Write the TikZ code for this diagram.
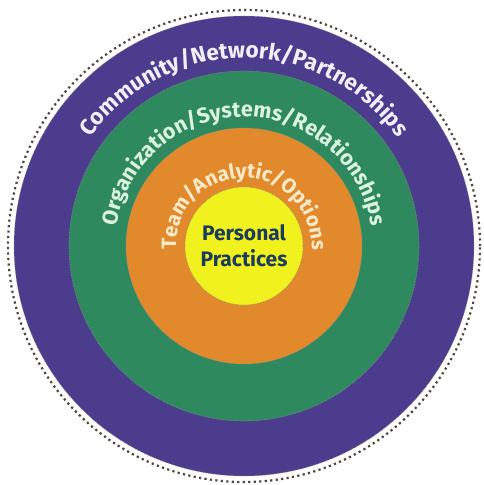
\documentclass[tikz,border=0pt]{standalone}
\usepackage{fontspec}
\setmainfont{Fira Sans}
\usetikzlibrary{decorations.text}
\definecolor{community}{HTML}{4B3C8E}
\definecolor{organization}{HTML}{2E8A5E}
\definecolor{team}{HTML}{E28A2B}
\definecolor{personal}{HTML}{F1F11E}
\definecolor{communitytext}{HTML}{F2F0FA}
\definecolor{organizationtext}{HTML}{DDF3E2}
\definecolor{teamtext}{HTML}{FCEBCB}
\definecolor{personaltext}{HTML}{1C3C5C}
\definecolor{rimdot}{HTML}{4E4640}
\newcommand{\bandfont}[1]{\bfseries\fontsize{#1}{#1}\selectfont}
\tikzset{
  ring/.style={circle, inner sep=0pt, draw=black!45, densely dotted, line width=0.6pt},
  rim/.style={draw=rimdot, line width=2.2pt, dash pattern=on 2.2pt off 3.3pt},
  core/.style={align=center, text=personaltext, font=\bandfont{21}, inner sep=0pt}
}
\begin{document}
\begin{tikzpicture}[x=1pt,y=1pt]
  \useasboundingbox (-244,-239) rectangle (240,246);

  % dotted rim round the outside
  \draw[rim] (0,0) circle[radius=236];

  \node[ring, fill=community, minimum size=460pt] (community) at (0,0) {};
  \node[ring, fill=organization, minimum size=350pt] (organization) at (0,0) {};
  \node[ring, fill=team, minimum size=236pt] (team) at (0,0) {};
  \node[ring, fill=personal, minimum size=118pt] (personal) at (0,0) {};
  \node[core] (practices) at (personal.center) {Personal\\[5pt]Practices};

  % band labels
  \path[decorate, decoration={text along path, text align=center, text color=communitytext,
    text={|\bandfont{22.5}|Community/Network/Partnerships}}]
    (170:188) arc[start angle=170, end angle=10, radius=188];
  \path[decorate, decoration={text along path, text align=center, text color=organizationtext,
    text={|\bandfont{21.5}|Organization/Systems/Relationships}}]
    (178:129) arc[start angle=178, end angle=2, radius=129];
  \path[decorate, decoration={text along path, text align=center, text color=teamtext,
    text={|\bandfont{20.5}|Team/Analytic/Options}}]
    (182:68) arc[start angle=182, end angle=-2, radius=68];
\end{tikzpicture}
\end{document}
